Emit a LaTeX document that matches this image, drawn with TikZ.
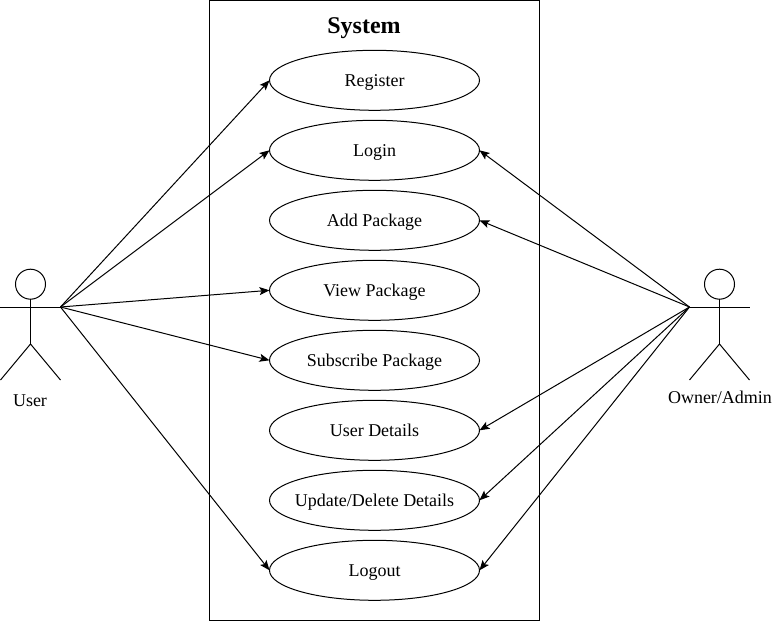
\documentclass[tikz,border=0pt]{standalone}
\usepackage{fontspec}
\setmainfont{Liberation Serif}
\usetikzlibrary{positioning}
\usetikzlibrary{shapes.geometric,arrows.meta}
\tikzset{
    usecase/.style={draw, ellipse, minimum width=157.5pt, minimum height=45pt, inner xsep=-20pt, inner ysep=0pt, outer sep=0pt, font=\fontsize{13.5pt}{15pt}\selectfont, text height=12pt, text depth=3pt},
    actorlabel/.style={font=\fontsize{13.5pt}{15pt}\selectfont, inner sep=0pt, text height=12pt, text depth=3pt},
    link/.style={-{Stealth[length=7.5pt, width=6pt, inset=1.6pt]}},
}

\begin{document}
\begin{tikzpicture}[x=0.75pt, y=-0.75pt, line width=0.75pt, node distance=7.5pt]
    \useasboundingbox (0,0) rectangle (772,621);
    \node(system) [draw, minimum width=247.5pt, minimum height=465pt, inner sep=0pt, outer sep=0pt] at (374.5,310) {};
    \node(title) [inner sep=0pt, font=\fontsize{18pt}{20pt}\selectfont\bfseries, text height=14pt, text depth=4pt] at (364,26.5) {System};

    \node(register) [usecase] at (374.5,80.3) {Register};
    \node(login) [usecase, below=of register] {Login};
    \node(addpkg) [usecase, below=of login] {Add Package};
    \node(viewpkg) [usecase, below=of addpkg] {View Package};
    \node(subpkg) [usecase, below=of viewpkg] {Subscribe Package};
    \node(details) [usecase, below=of subpkg] {User Details};
    \node(update) [usecase, below=of details] {Update/Delete Details};
    \node(logout) [usecase, below=of update] {Logout};

    % user figure
    \coordinate(uleft) at (0,307);
    \coordinate(uhand) at (60.5,307);
    \coordinate(uhip) at (30.5,344);
    \coordinate(ufootl) at (0.5,380);
    \coordinate(ufootr) at (60.5,380);
    \node(uhead) [draw, circle, minimum size=22.5pt, inner sep=0pt, outer sep=0pt] at (30.5,284.2) {};
    \node(user) [actorlabel] at (30,400) {User};
    \draw(uhead) -- (uhip);
    \draw(uleft) -- (uhand);
    \draw(ufootl) -- (uhip) -- (ufootr);

    % owner figure
    \coordinate(ohand) at (689.5,307);
    \coordinate(oright) at (749.5,307);
    \coordinate(ohip) at (719.5,344);
    \coordinate(ofootl) at (689.5,380);
    \coordinate(ofootr) at (749.5,380);
    \node(ohead) [draw, circle, minimum size=22.5pt, inner sep=0pt, outer sep=0pt] at (719.5,284.2) {};
    \node(owner) [actorlabel] at (720,397) {Owner/Admin};
    \draw(ohead) -- (ohip);
    \draw(ohand) -- (oright);
    \draw(ofootl) -- (ohip) -- (ofootr);

    \foreach \uc in {register,login,viewpkg,subpkg,logout}
        \draw[link](uhand) -- (\uc.west);
    \foreach \uc in {login,addpkg,details,update,logout}
        \draw[link](ohand) -- (\uc.east);
\end{tikzpicture}
\end{document}
